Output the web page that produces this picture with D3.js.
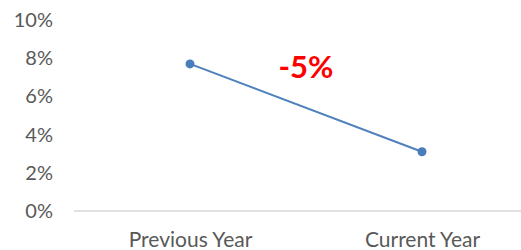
<!DOCTYPE html>
<html>
<head>
<meta charset="utf-8">
<script src="https://cdn.jsdelivr.net/npm/d3@7"></script>
<style>
  body { margin: 0; background: #fff; }
  svg { display: block; font-family: Lato, "Open Sans", sans-serif; }
</style>
</head>
<body>
<div id="chart"></div>
<script>
// chart data
const categories = ["Previous Year", "Current Year"];
const values = [7.7, 3.1];
const yTicks = [0, 2, 4, 6, 8, 10];
const changeLabel = "-5%";

const w = 521, h = 250;
const plotTop = 20, plotBottom = 211;

const svg = d3.select("#chart").append("svg")
    .attr("width", w)
    .attr("height", h);

const xScale = d3.scalePoint()
    .domain(categories)
    .range([190, 422]);

const yScale = d3.scaleLinear()
    .domain([0, 10])
    .range([plotBottom, plotTop]);

// y tick labels, no axis line
const yAxis = d3.axisLeft(yScale)
    .tickValues(yTicks)
    .tickFormat(d => d + "%")
    .tickSize(0)
    .tickPadding(0);

svg.append("g")
    .attr("transform", "translate(53,0)")
    .call(yAxis)
    .call(g => g.select(".domain").remove())
    .selectAll("text")
    .attr("font-size", 20)
    .attr("font-family", "Lato, sans-serif")
    .attr("fill", "#595959");

// baseline
svg.append("line")
    .attr("x1", 74).attr("x2", w)
    .attr("y1", yScale(0)).attr("y2", yScale(0))
    .attr("stroke", "#d9d9d9")
    .attr("stroke-width", 1.5);

// category labels
const xAxis = d3.axisBottom(xScale).tickSize(0).tickPadding(0);
svg.append("g")
    .attr("transform", `translate(0,${yScale(0) + 21})`)
    .call(xAxis)
    .call(g => g.select(".domain").remove())
    .selectAll("text")
    .attr("font-size", 21)
    .attr("font-family", "Lato, sans-serif")
    .attr("fill", "#595959");

const pts = categories.map((c, i) => [c, values[i]]);

svg.append("path")
    .datum(pts)
    .attr("fill", "none")
    .attr("stroke", "#4f81bd")
    .attr("stroke-width", 2)
    .attr("d", d3.line().x(d => xScale(d[0])).y(d => yScale(d[1])));

svg.selectAll("circle")
    .data(pts)
    .enter()
    .append("circle")
    .attr("cx", d => xScale(d[0]))
    .attr("cy", d => yScale(d[1]))
    .attr("r", 4.5)
    .attr("fill", "#4a7ebb");

svg.append("text")
    .attr("x", 306)
    .attr("y", 78)
    .attr("text-anchor", "middle")
    .attr("font-size", 31)
    .attr("font-weight", "bold")
    .attr("font-family", "Lato, sans-serif")
    .attr("fill", "#ff0000")
    .text(changeLabel);
</script>
</body>
</html>
